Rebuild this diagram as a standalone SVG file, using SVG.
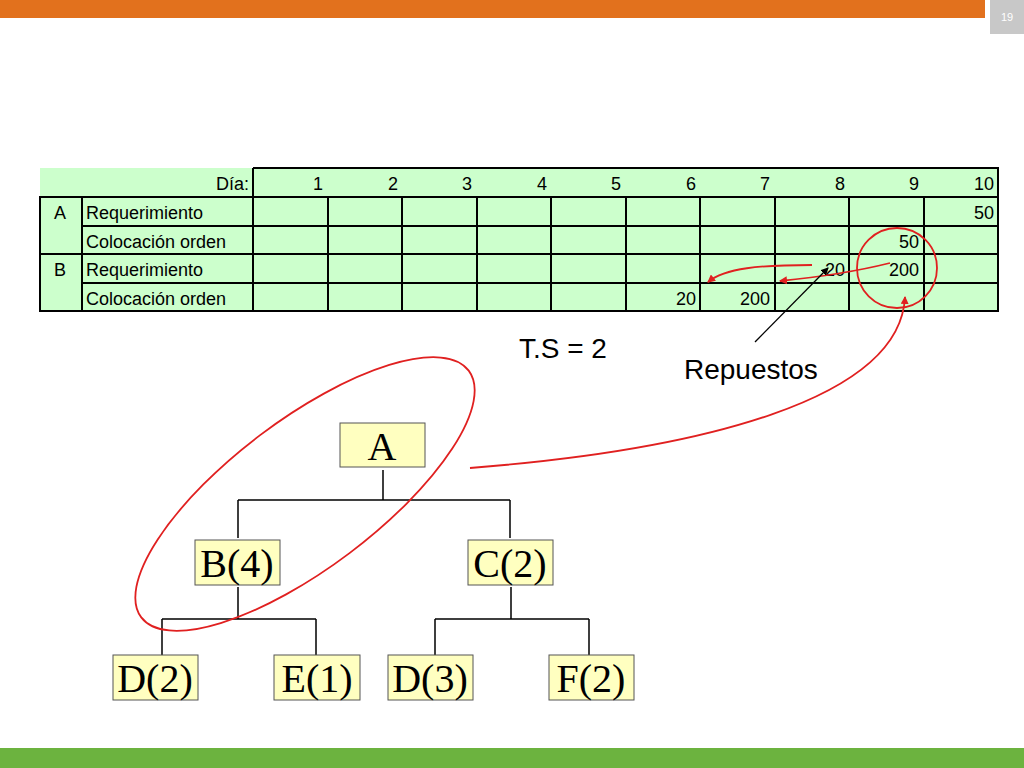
<svg xmlns="http://www.w3.org/2000/svg" width="1024" height="768" viewBox="0 0 1024 768">
<defs>
<marker id="ar" markerWidth="8" markerHeight="8" refX="7" refY="4" orient="auto" markerUnits="userSpaceOnUse"><path d="M0,0 L8,4 L0,8 z" fill="#e02020"/></marker>
<marker id="ab" markerWidth="8" markerHeight="8" refX="7" refY="4" orient="auto" markerUnits="userSpaceOnUse"><path d="M0,0 L8,4 L0,8 z" fill="#000"/></marker>
<style>
.t{font-family:"Liberation Sans",Arial,sans-serif;font-size:18px;fill:#000}
.n{font-family:"Liberation Serif","Times New Roman",serif;font-size:40px;fill:#000;text-anchor:middle}
.b{fill:#ffffc0;stroke:#555;stroke-width:1}
.g{stroke:#000;stroke-width:1.5;fill:none}
.r{stroke:#e02020;stroke-width:1.8;fill:none}
</style>
</defs>
<rect width="1024" height="768" fill="#fff"/>
<rect x="0" y="0" width="985" height="18" fill="#e2711d"/>
<rect x="990" y="0" width="34" height="34" fill="#c8c8c8"/>
<text x="1007" y="21" font-family="Liberation Sans,sans-serif" font-size="11" fill="#fff" text-anchor="middle">19</text>
<rect x="0" y="748" width="1024" height="20" fill="#6cb33f"/>
<g id="table">
<rect x="40" y="168" width="958" height="143" fill="#ccffcc"/>
<g stroke="#000" stroke-width="2" fill="none">
<path d="M253,168 H998 V311 H40 V197 H998 M82,226 H998 M40,254 H998 M82,283 H998 M82,197 V311"/>
<path d="M253,168 V311 M328,197 V311 M402,197 V311 M477,197 V311 M551,197 V311 M626,197 V311 M700,197 V311 M775,197 V311 M849,197 V311 M924,197 V311"/>
</g>
<g class="t" text-anchor="end">
<text x="249" y="190">Día:</text>
<text x="323" y="190">1</text><text x="398" y="190">2</text><text x="472" y="190">3</text><text x="547" y="190">4</text><text x="621" y="190">5</text><text x="696" y="190">6</text><text x="770" y="190">7</text><text x="845" y="190">8</text><text x="919" y="190">9</text><text x="994" y="190">10</text>
<text x="994" y="219">50</text>
<text x="919" y="248">50</text>
<text x="845" y="276">20</text><text x="919" y="276">200</text>
<text x="696" y="305">20</text><text x="770" y="305">200</text>
</g>
<g class="t">
<text x="54" y="219">A</text><text x="86" y="219">Requerimiento</text>
<text x="86" y="248">Colocación orden</text>
<text x="54" y="276">B</text><text x="86" y="276">Requerimiento</text>
<text x="86" y="305">Colocación orden</text>
</g>
</g>
<text x="519" y="358" font-family="Liberation Sans,sans-serif" font-size="28">T.S = 2</text>
<text x="684" y="379" font-family="Liberation Sans,sans-serif" font-size="28">Repuestos</text>
<g id="connectors">
<path class="g" d="M383,470 V500 M238,500 H510 M238,500 V538 M510,500 V538 M238,587 V619 M162,619 H316 M162,619 V655 M316,619 V655 M511,587 V619 M435,619 H589 M435,619 V655 M589,619 V655"/>
<ellipse class="r" cx="305" cy="494" rx="205" ry="74" transform="rotate(-37 305 494)"/>
<circle class="r" cx="897" cy="268" r="40"/>
<path class="r" d="M470,468 C700,450 900,400 905,297" marker-end="url(#ar)"/>
<path class="r" d="M812,265 C760,265 725,268 708,282" marker-end="url(#ar)"/>
<path class="r" d="M890,263 C850,273 810,278 780,281" marker-end="url(#ar)"/>
<path d="M755,342 L828,268" stroke="#000" stroke-width="1.3" marker-end="url(#ab)"/>
</g>
<g id="A"><rect class="b" x="340" y="423" width="85" height="44"/><text class="n" x="382" y="460">A</text></g>
<g id="B"><rect class="b" x="195" y="540" width="85" height="45"/><text class="n" x="237" y="577">B(4)</text></g>
<g id="C"><rect class="b" x="468" y="540" width="85" height="45"/><text class="n" x="510" y="577">C(2)</text></g>
<g id="D2"><rect class="b" x="113" y="655" width="85" height="45"/><text class="n" x="155" y="692">D(2)</text></g>
<g id="E"><rect class="b" x="274" y="655" width="86" height="45"/><text class="n" x="317" y="692">E(1)</text></g>
<g id="D3"><rect class="b" x="388" y="655" width="85" height="45"/><text class="n" x="430" y="692">D(3)</text></g>
<g id="F"><rect class="b" x="549" y="655" width="85" height="45"/><text class="n" x="591" y="692">F(2)</text></g>
</svg>
